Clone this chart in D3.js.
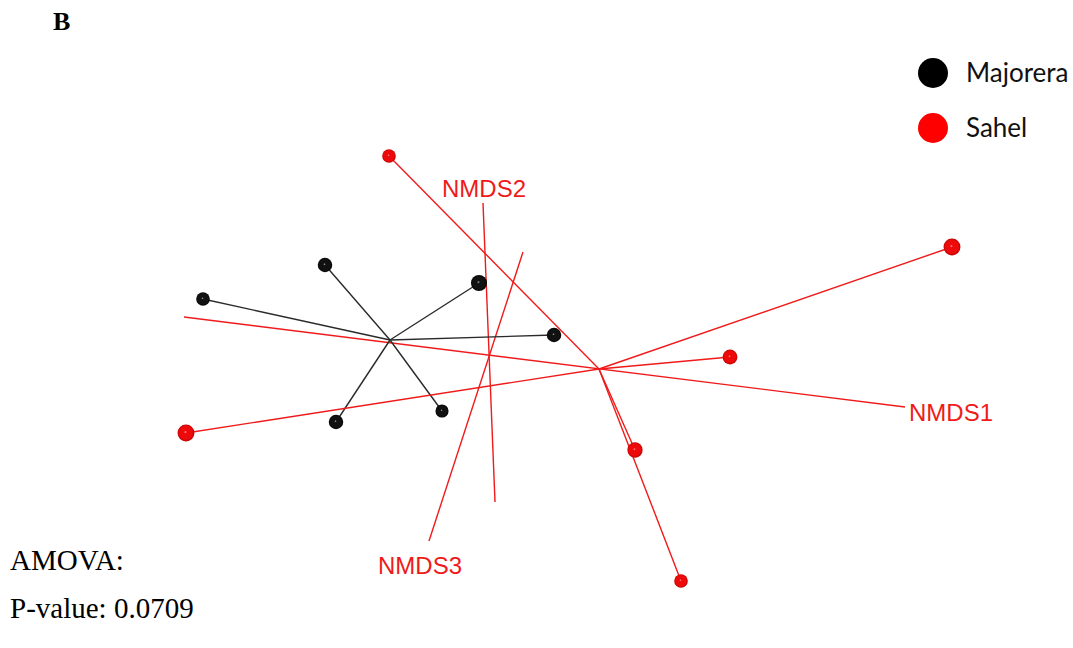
<!DOCTYPE html>
<html>
<head>
<meta charset="utf-8">
<script src="https://cdn.jsdelivr.net/npm/d3@7/dist/d3.min.js"></script>
<style>
  html, body { margin: 0; padding: 0; background: #fff; }
  svg { display: block; }
</style>
</head>
<body>
<svg id="chart" width="1073" height="648"></svg>
<script>
// Projected NMDS ordination (3 axes shown in perspective), two groups with spider lines to centroids.
const groups = ["Majorera", "Sahel"];

// Majorera samples: projected coordinates and depth (0 = far, 1 = near)
const majoreraX = [-0.9175, -0.6125, -0.2275, -0.04, -0.32, -0.585];
const majoreraY = [0.1775, 0.2625, 0.2175, 0.0875, -0.1025, -0.13];
const majoreraDepth = [0.2, 0.35, 0.65, 0.35, 0.1, 0.35];
const majoreraCentroid = [-0.45, 0.075];

// Sahel samples
const sahelX = [-0.4525, 0.955, 0.4, -0.96, 0.1625, 0.2775];
const sahelY = [0.535, 0.3075, 0.0325, -0.1575, -0.2, -0.5275];
const sahelDepth = [0.2, 0.8, 0.4, 0.8, 0.5, 0.2];
const sahelCentroid = [0.0725, 0.0025];

// Ordination axes: projected start and end points
const axisNames = ["NMDS1", "NMDS2", "NMDS3"];
const axisStart = [[-0.965, 0.1325], [-0.2175, 0.4175], [-0.1175, 0.295]];
const axisEnd = [[0.8375, -0.0925], [-0.1875, -0.33], [-0.3525, -0.4275]];

const statsLines = ["AMOVA:", "P-value: 0.0709"];

const svg = d3.select("#chart");

const x = d3.scaleLinear().domain([-1, 1]).range([170, 970]);
const y = d3.scaleLinear().domain([-1, 1]).range([770, -30]);
const r = d3.scaleLinear().domain([0, 1]).range([6.3, 9]);

const red = "#f01a1a";
const palette = {
  Majorera: { line: "#2a2a2a", base: "#000000", mid: "#111111", hi: "#b0b0b0", legend: "#000000" },
  Sahel: { line: red, base: "#a80000", mid: "#ee0a0a", hi: "#ffa0a0", legend: "#ff0000" }
};

// Sphere shading gradients
const defs = svg.append("defs");
groups.forEach(g => {
  const c = palette[g];
  const grad = defs.append("radialGradient")
    .attr("id", "sphere-" + g)
    .attr("cx", "50%").attr("cy", "50%").attr("r", "55%")
    .attr("fx", "46%").attr("fy", "44%");
  grad.append("stop").attr("offset", "0%").attr("stop-color", c.hi);
  grad.append("stop").attr("offset", "16%").attr("stop-color", c.mid);
  grad.append("stop").attr("offset", "68%").attr("stop-color", c.mid);
  grad.append("stop").attr("offset", "100%").attr("stop-color", c.base);
});

const data = {
  Majorera: { xs: majoreraX, ys: majoreraY, ds: majoreraDepth, centroid: majoreraCentroid },
  Sahel: { xs: sahelX, ys: sahelY, ds: sahelDepth, centroid: sahelCentroid }
};

// Axes of the ordination space
const axesG = svg.append("g");
axisNames.forEach((name, i) => {
  axesG.append("line")
    .attr("x1", x(axisStart[i][0])).attr("y1", y(axisStart[i][1]))
    .attr("x2", x(axisEnd[i][0])).attr("y2", y(axisEnd[i][1]))
    .attr("stroke", red).attr("stroke-width", 1.4);
});
const axisLabelOffset = [
  { anchor: "start", dx: 4, dy: 14, from: "end" },
  { anchor: "middle", dx: 1, dy: -6, from: "start" },
  { anchor: "middle", dx: -9, dy: 33, from: "end" }
];
axisNames.forEach((name, i) => {
  const o = axisLabelOffset[i];
  const p = o.from === "end" ? axisEnd[i] : axisStart[i];
  axesG.append("text")
    .attr("x", x(p[0]) + o.dx).attr("y", y(p[1]) + o.dy)
    .attr("text-anchor", o.anchor)
    .attr("font-family", "'Liberation Sans', Arial, sans-serif")
    .attr("font-size", 24)
    .attr("fill", red)
    .text(name);
});

// Spider lines from each sample to its group centroid
groups.forEach(g => {
  const d = data[g];
  svg.append("g").selectAll("line")
    .data(d.xs.map((v, i) => i))
    .join("line")
    .attr("x1", x(d.centroid[0])).attr("y1", y(d.centroid[1]))
    .attr("x2", i => x(d.xs[i])).attr("y2", i => y(d.ys[i]))
    .attr("stroke", palette[g].line)
    .attr("stroke-width", 1.4);
});

// Sample spheres
groups.forEach(g => {
  const d = data[g];
  svg.append("g").selectAll("circle")
    .data(d.xs.map((v, i) => i))
    .join("circle")
    .attr("cx", i => x(d.xs[i])).attr("cy", i => y(d.ys[i]))
    .attr("r", i => r(d.ds[i]))
    .attr("fill", "url(#sphere-" + g + ")");
});

// Legend
const legend = svg.append("g");
groups.forEach((g, i) => {
  legend.append("circle")
    .attr("cx", 933).attr("cy", 73 + i * 55)
    .attr("r", 15)
    .attr("fill", palette[g].legend);
  legend.append("text")
    .attr("x", 966).attr("y", 82 + i * 55)
    .attr("font-family", "Lato, 'Open Sans', sans-serif")
    .attr("font-size", 26)
    .attr("fill", "#111")
    .text(g);
});

// Panel letter
svg.append("text")
  .attr("x", 53).attr("y", 30)
  .attr("font-family", "'Liberation Serif', 'Times New Roman', serif")
  .attr("font-weight", "bold")
  .attr("font-size", 26)
  .attr("fill", "#000")
  .text("B");

// Test statistics
svg.append("g").selectAll("text")
  .data(statsLines)
  .join("text")
  .attr("x", 10)
  .attr("y", (d, i) => 570 + i * 48)
  .attr("font-family", "'Liberation Serif', 'Times New Roman', serif")
  .attr("font-size", 29)
  .attr("fill", "#000")
  .text(d => d);
</script>
</body>
</html>
